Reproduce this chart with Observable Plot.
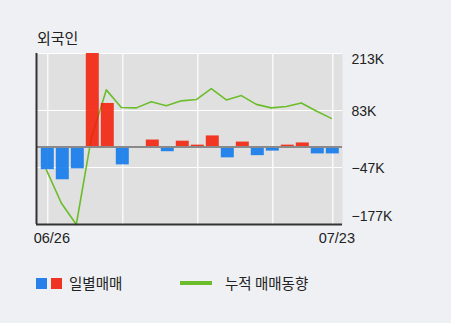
<!DOCTYPE html>
<html>
<head>
<meta charset="utf-8">
<script src="https://cdn.jsdelivr.net/npm/d3@7"></script>
<script src="https://cdn.jsdelivr.net/npm/@observablehq/plot@0.6"></script>
<style>
  html, body { margin: 0; padding: 0; background: #eef0f3; }
  #wrap { position: relative; width: 451px; height: 323px; overflow: hidden; font-family: "Noto Sans CJK KR", "Noto Sans", sans-serif; color: #222; }
  #chart { position: absolute; left: 0; top: 0; }
  .title { position: absolute; left: 37px; top: 29px; font-size: 15px; line-height: 17px; }
  .leg { position: absolute; font-size: 14.5px; line-height: 16px; top: 275px; }
  .sw { position: absolute; width: 11px; height: 11px; top: 278px; }
  .ln { position: absolute; width: 32px; height: 4px; top: 281px; left: 180px; background: #6cbd2b; }
</style>
</head>
<body>
<div id="wrap">
  <div id="chart"></div>
  <div class="title">외국인</div>
  <div class="sw" style="left:36px;background:#2a80ea"></div>
  <div class="sw" style="left:51px;background:#ee3322"></div>
  <div class="leg" style="left:69px">일별매매</div>
  <div class="ln"></div>
  <div class="leg" style="left:225px">누적 매매동향</div>
</div>
<script>
const dates = ["06/26","06/27","06/28","07/01","07/02","07/03","07/04","07/05","07/08","07/09",
               "07/10","07/11","07/12","07/15","07/16","07/17","07/18","07/19","07/22","07/23"];
const daily = [-52, -75, -50, 213, 99, -41, 0, 15.6, -11, 13,
               4, 25, -25, 11, -20, -9.6, 4, 9, -16, -16];
const cumulative = [-52, -128, -177, 20, 130, 90, 89, 103, 94, 105,
                    108, 133, 107, 117, 97, 89, 92, 100, 82, 65];
const yTicks = [213, 83, -47, -177];
const yTickLabels = ["213K", "83K", "\u221247K", "\u2212177K"];
const xTickIdx = [0, 19];
const xGridIdx = [0, 5, 10, 15, 19];

const bars = daily.map((v, i) => ({i, v}));
const line = cumulative.map((v, i) => ({i, v}));
const yLab = yTicks.map((t, k) => ({t, label: yTickLabels[k]}));

const xDomain = [-0.753, 19.647];
const yDomain = [-177, 213];

const plot = Plot.plot({
  width: 451,
  height: 260,
  marginLeft: 36,
  marginRight: 109,
  marginTop: 53,
  marginBottom: 36,
  style: {background: "transparent", fontFamily: "'Liberation Sans', Arial, sans-serif"},
  x: {domain: xDomain, axis: null},
  y: {domain: yDomain, axis: null},
  marks: [
    Plot.frame({fill: "#e0e0e0", stroke: null}),
    Plot.ruleY(yTicks.slice(0, 3), {stroke: "white", strokeWidth: 1.2}),
    Plot.ruleX(xGridIdx, {stroke: "white", strokeWidth: 1.2}),
    Plot.line(line, {x: "i", y: "v", stroke: "#6cbd2b", strokeWidth: 1.6, dx: -1.5}),
    Plot.rectY(bars.filter(d => d.v !== 0), {
      x1: d => d.i - 0.433, x2: d => d.i + 0.433, y1: 0, y2: "v",
      fill: d => d.v >= 0 ? "rgb(242,30,8)" : "rgb(12,118,236)", fillOpacity: 0.88
    }),
    Plot.ruleY([0], {stroke: "#8a8a8a", strokeWidth: 2}),
    Plot.ruleX([xDomain[0]], {stroke: "#333", strokeWidth: 2}),
    Plot.ruleY([yDomain[0]], {stroke: "#333", strokeWidth: 2}),
    Plot.text(yLab.filter((d, k) => k === 0), {y: "t", text: "label", frameAnchor: "right", textAnchor: "start", dx: 9, dy: 6, fontSize: 14, fill: "#222"}),
    Plot.text(yLab.filter((d, k) => k === 1 || k === 2), {y: "t", text: "label", frameAnchor: "right", textAnchor: "start", dx: 9, dy: 1, fontSize: 14, fill: "#222"}),
    Plot.text(yLab.filter((d, k) => k === 3), {y: "t", text: "label", frameAnchor: "right", textAnchor: "start", dx: 9, dy: -8, fontSize: 14, fill: "#222"}),
    Plot.text(xTickIdx, {x: d => d, text: d => dates[d], frameAnchor: "bottom", dy: 18, dx: 4, fontSize: 14.5, fill: "#222"})
  ]
});
document.getElementById("chart").appendChild(plot);
</script>
</body>
</html>
